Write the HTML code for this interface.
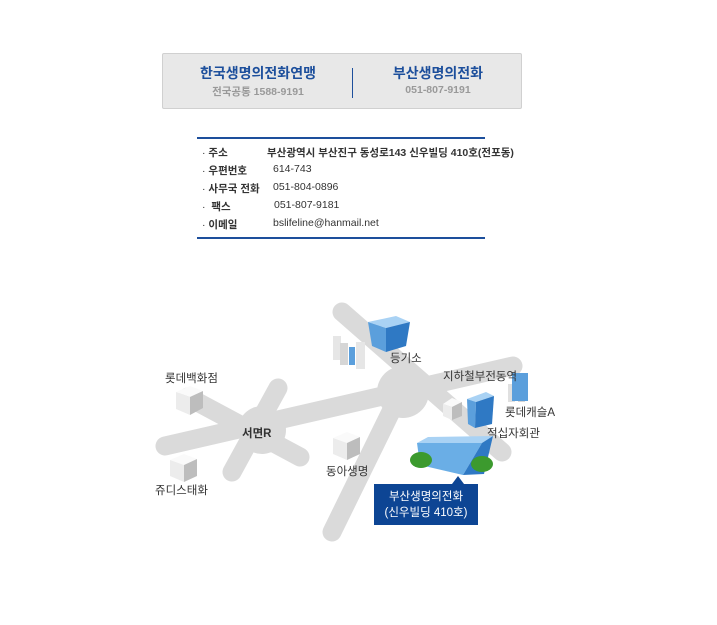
<!DOCTYPE html>
<html><head><meta charset="utf-8"><style>
body{margin:0;width:717px;height:625px;background:#fff;font-family:"Liberation Sans","Noto Sans CJK KR",sans-serif;position:relative;overflow:hidden}
.box{position:absolute;left:162px;top:53px;width:358px;height:54px;background:#e8e8e8;border:1px solid #d0d0d0;border-radius:2px}
.t{position:absolute;text-align:center;font-weight:bold;color:#1d4f9c;font-size:14px}
.s{position:absolute;text-align:center;color:#999;font-size:10.5px;font-weight:bold}
.info{position:absolute;left:197px;top:137px;width:288px;height:98px;border-top:2px solid #1d4f9c;border-bottom:2px solid #1d4f9c}
.r{position:absolute;font-size:10.5px;color:#333;white-space:nowrap}
.r b{font-weight:bold}
</style></head><body>
<div class="box">
<div class="t" style="left:20px;top:9px;width:150px">한국생명의전화연맹</div>
<div class="s" style="left:20px;top:30px;width:150px">전국공통 1588-9191</div>
<div style="position:absolute;left:189px;top:14px;width:1px;height:30px;background:#1d4f9c"></div>
<div class="t" style="left:200px;top:9px;width:150px">부산생명의전화</div>
<div class="s" style="left:200px;top:30px;width:150px">051-807-9191</div>
</div>
<div class="info">
<div class="r" style="left:5px;top:6px">· <b>주소</b></div><div class="r" style="left:70px;top:6px"><b>부산광역시 부산진구 동성로143 신우빌딩 410호(전포동)</b></div>
<div class="r" style="left:5px;top:24px">· <b>우편번호</b></div><div class="r" style="left:76px;top:24px">614-743</div>
<div class="r" style="left:5px;top:42px">· <b>사무국 전화</b></div><div class="r" style="left:76px;top:42px">051-804-0896</div>
<div class="r" style="left:5px;top:60px">· &nbsp;<b>팩스</b></div><div class="r" style="left:77px;top:60px">051-807-9181</div>
<div class="r" style="left:5px;top:78px">· <b>이메일</b></div><div class="r" style="left:76px;top:78px">bslifeline@hanmail.net</div>
</div>
<svg width="717" height="625" style="position:absolute;left:0;top:0" font-family="Liberation Sans, Noto Sans CJK KR, sans-serif" font-size="11.5" fill="#333">
<g stroke="#dadada" stroke-width="19" stroke-linecap="round" fill="none">
<line x1="165" y1="446" x2="513" y2="366"/>
<line x1="342" y1="312" x2="502" y2="452"/>
<line x1="332" y1="532" x2="405" y2="383"/>
<line x1="188" y1="397" x2="300" y2="457"/>
<line x1="278" y1="388" x2="232" y2="472"/>
</g>
<circle cx="262" cy="430" r="24" fill="#dadada"/>
<circle cx="403" cy="392" r="26" fill="#dadada"/>
<g stroke="none">
<polygon points="176,392 190,386 203,391 190,397" fill="#fafafa"/><polygon points="176,392 190,397 190,415 176,409" fill="#ececec"/><polygon points="190,397 203,391 203,408 190,415" fill="#bdbdbd"/>
<polygon points="170,460 184,454 197,459 184,465" fill="#fafafa"/><polygon points="170,460 184,465 184,482 170,476" fill="#ececec"/><polygon points="184,465 197,459 197,476 184,482" fill="#bdbdbd"/>
<polygon points="333,438 347,432 360,437 347,443" fill="#fafafa"/><polygon points="333,438 347,443 347,460 333,454" fill="#ececec"/><polygon points="347,443 360,437 360,454 347,460" fill="#bdbdbd"/>
<polygon points="443,404 452,398 462,402 452,407" fill="#fafafa"/><polygon points="443,404 452,407 452,420 443,416" fill="#ececec"/><polygon points="452,407 462,402 462,416 452,420" fill="#bdbdbd"/>
<rect x="333" y="336" width="8" height="24" fill="#e6e6e6"/><rect x="340" y="343" width="8" height="22" fill="#d6d6d6"/><rect x="356" y="342" width="9" height="27" fill="#e6e6e6"/>
<rect x="508" y="384" width="7" height="18" fill="#e0e0e0"/><rect x="518" y="382" width="7" height="20" fill="#d6d6d6"/>
</g>
<polygon points="368,322 396,316 410,322 386,328" fill="#a9d2f4"/>
<polygon points="368,322 386,328 386,352 372,346" fill="#5b9fdc"/>
<polygon points="386,328 410,322 406,346 386,352" fill="#2f79c4"/>
<polygon points="467,399 486,392 494,396 476,402" fill="#a9d2f4"/>
<polygon points="467,399 476,402 475,428 468,424" fill="#5b9fdc"/>
<polygon points="476,402 494,396 492,424 475,428" fill="#2f79c4"/>
<polygon points="417,443 428,437 493,436 482,443" fill="#a9d2f4"/>
<polygon points="417,443 482,443 463,475 420,465" fill="#6aaee6"/>
<polygon points="482,443 493,436 484,474 463,475" fill="#2f79c4"/>
<rect x="349" y="347" width="6" height="18" fill="#5b9fdc"/><rect x="512" y="373" width="16" height="28" fill="#5b9fdc"/>
<ellipse cx="421" cy="460" rx="11" ry="8" fill="#3c9a2e"/>
<ellipse cx="482" cy="464" rx="11" ry="8" fill="#3c9a2e"/>
<text x="390" y="362">등기소</text>
<text x="165" y="382">롯데백화점</text>
<text x="443" y="380">지하철부전동역</text>
<text x="505" y="416">롯데캐슬A</text>
<text x="487" y="437">적십자회관</text>
<text x="242" y="437" font-weight="bold">서면R</text>
<text x="326" y="475">동아생명</text>
<text x="155" y="494">쥬디스태화</text>
<polygon points="374,484 452,484 458,476 464,484 478,484 478,525 374,525" fill="#0d4594"/>
<text x="426" y="500" fill="#fff" text-anchor="middle">부산생명의전화</text>
<text x="426" y="516" fill="#fff" text-anchor="middle">(신우빌딩 410호)</text>
</svg>
</body></html>
